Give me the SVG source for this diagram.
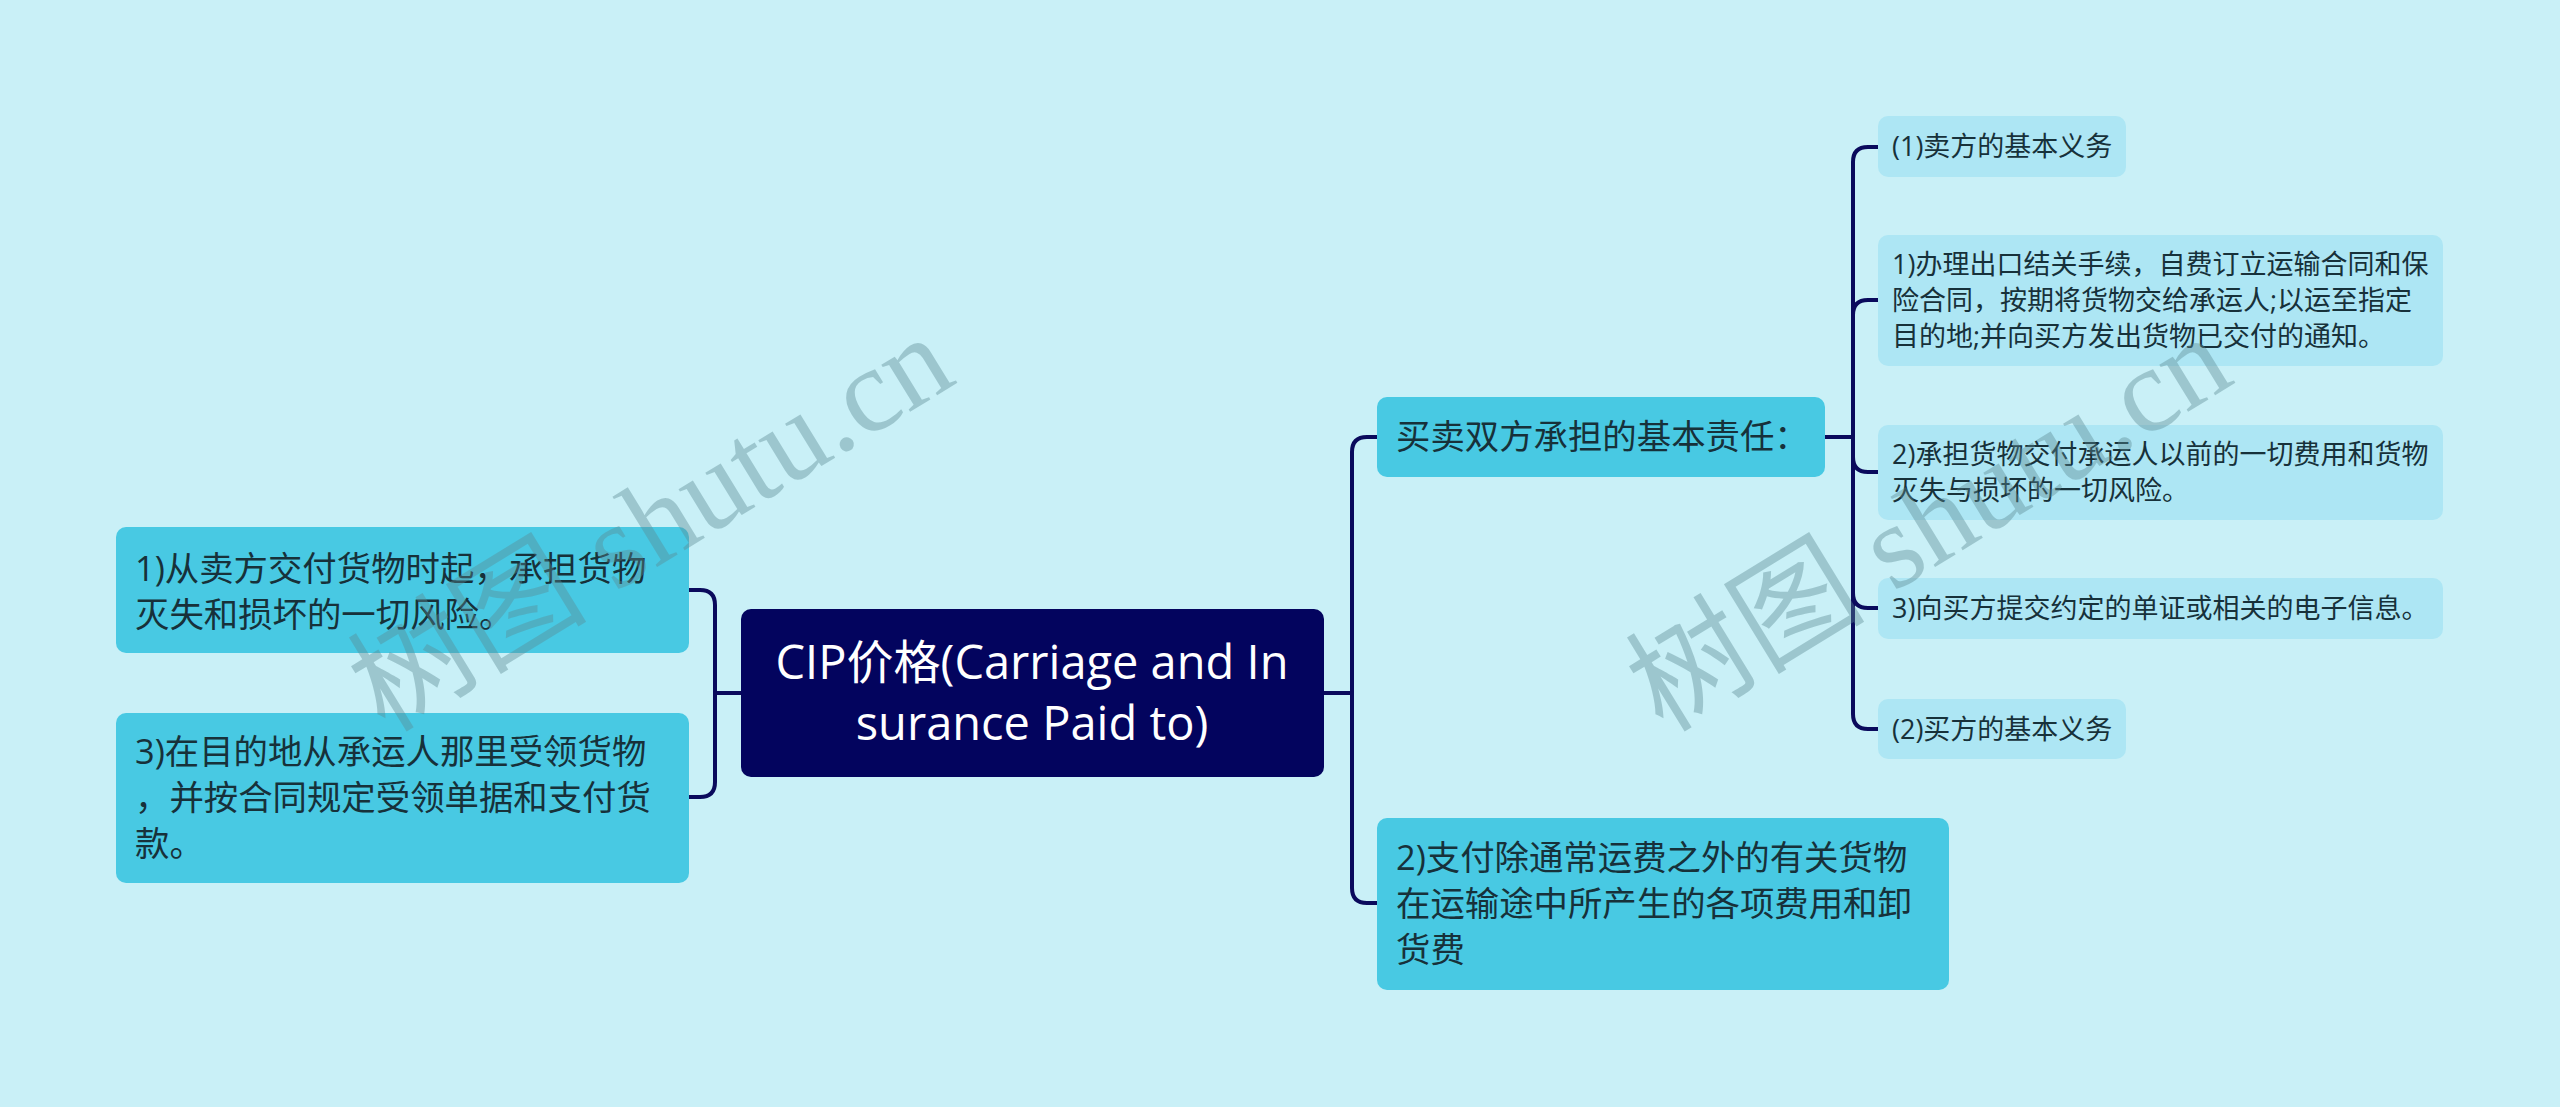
<svg xmlns="http://www.w3.org/2000/svg" width="2560" height="1107" viewBox="0 0 2560 1107">
<style>
.bg{fill:#c9f0f7}
.l1{fill:#48c9e3}
.sub{fill:#ade6f4}
.root{fill:#03045e}
.t{font-family:"Open Sans","Noto Sans CJK SC",sans-serif;fill:#17313a}
.t34{font-size:34.4px}
.t27{font-size:27px}
.rt{font-family:"Open Sans","Noto Sans CJK SC",sans-serif;font-size:47px;fill:#ffffff;text-anchor:middle}
.c{fill:none;stroke:#0a0a5c;stroke-width:4;stroke-linecap:round}
.wm{font-family:"Liberation Serif","Noto Sans CJK SC",serif;font-size:120px;fill:#5b8a93;opacity:0.4;text-anchor:middle}
</style>
<rect class="bg" x="0" y="0" width="2560" height="1107"/>
<g id="connectors">
<path class="c" d="M741,693 H715"/>
<path class="c" d="M715,693 V605 Q715,590 700,590 H689"/>
<path class="c" d="M715,693 V782 Q715,797 700,797 H689"/>
<path class="c" d="M1324,693 H1352"/>
<path class="c" d="M1352,693 V452 Q1352,437 1367,437 H1377"/>
<path class="c" d="M1352,693 V888 Q1352,903 1367,903 H1377"/>
<path class="c" d="M1825,437 H1853"/>
<path class="c" d="M1853,437 V162 Q1853,147 1868,147 H1878"/>
<path class="c" d="M1853,437 V315 Q1853,300 1868,300 H1878"/>
<path class="c" d="M1853,437 V457 Q1853,472 1868,472 H1878"/>
<path class="c" d="M1853,437 V593 Q1853,608 1868,608 H1878"/>
<path class="c" d="M1853,437 V714 Q1853,729 1868,729 H1878"/>
</g>
<g id="root">
<rect class="root" x="741" y="609" width="583" height="168" rx="10"/>
<text class="rt" x="1032" y="679">CIP价格(Carriage and In</text>
<text class="rt" x="1032" y="740">surance Paid to)</text>
</g>
<g id="left1">
<rect class="l1" x="116" y="527" width="573" height="126" rx="10"/>
<text class="t t34" x="135" y="581">1)从卖方交付货物时起，承担货物</text>
<text class="t t34" x="135" y="627">灭失和损坏的一切风险。</text>
</g>
<g id="left2">
<rect class="l1" x="116" y="713" width="573" height="170" rx="10"/>
<text class="t t34" x="135" y="764">3)在目的地从承运人那里受领货物</text>
<text class="t t34" x="135" y="810">，并按合同规定受领单据和支付货</text>
<text class="t t34" x="135" y="856">款。</text>
</g>
<g id="right1">
<rect class="l1" x="1377" y="397" width="448" height="80" rx="10"/>
<text class="t t34" x="1396" y="449">买卖双方承担的基本责任：</text>
</g>
<g id="right2">
<rect class="l1" x="1377" y="818" width="572" height="172" rx="10"/>
<text class="t t34" x="1396" y="870">2)支付除通常运费之外的有关货物</text>
<text class="t t34" x="1396" y="916">在运输途中所产生的各项费用和卸</text>
<text class="t t34" x="1396" y="962">货费</text>
</g>
<g id="sub1">
<rect class="sub" x="1878" y="116" width="248" height="61" rx="10"/>
<text class="t t27" x="1892" y="156">(1)卖方的基本义务</text>
</g>
<g id="sub2">
<rect class="sub" x="1878" y="235" width="565" height="131" rx="10"/>
<text class="t t27" x="1892" y="274">1)办理出口结关手续，自费订立运输合同和保</text>
<text class="t t27" x="1892" y="310">险合同，按期将货物交给承运人;以运至指定</text>
<text class="t t27" x="1892" y="346">目的地;并向买方发出货物已交付的通知。</text>
</g>
<g id="sub3">
<rect class="sub" x="1878" y="425" width="565" height="95" rx="10"/>
<text class="t t27" x="1892" y="464">2)承担货物交付承运人以前的一切费用和货物</text>
<text class="t t27" x="1892" y="500">灭失与损坏的一切风险。</text>
</g>
<g id="sub4">
<rect class="sub" x="1878" y="578" width="565" height="61" rx="10"/>
<text class="t t27" x="1892" y="618">3)向买方提交约定的单证或相关的电子信息。</text>
</g>
<g id="sub5">
<rect class="sub" x="1878" y="699" width="248" height="60" rx="10"/>
<text class="t t27" x="1892" y="739">(2)买方的基本义务</text>
</g>
<g id="watermark">
<text class="wm" transform="translate(650,522) rotate(-31.5)" dy="0.35em">树图 shutu.cn</text>
<text class="wm" transform="translate(1928,522) rotate(-31.5)" dy="0.35em">树图 shutu.cn</text>
</g>
</svg>
